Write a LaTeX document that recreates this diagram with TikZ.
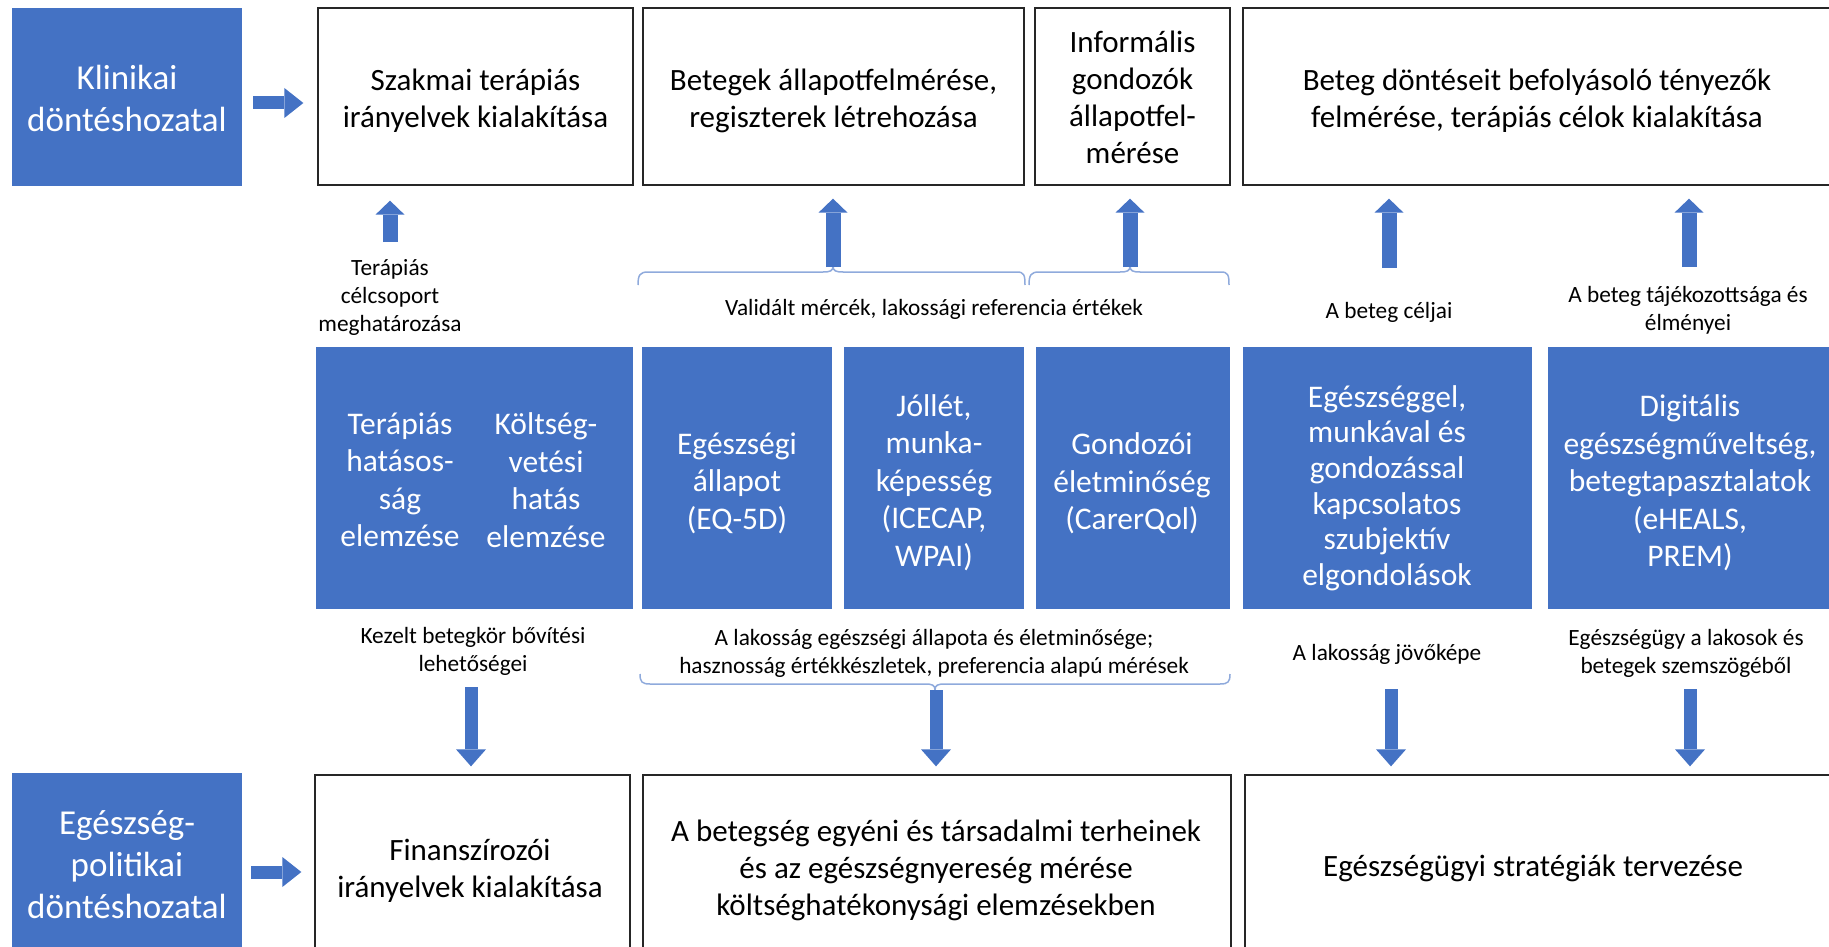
\documentclass[tikz,border=0pt]{standalone}
\usepackage{fontspec}
\setmainfont{Carlito}
\usetikzlibrary{arrows.meta}
\definecolor{obl}{HTML}{4472C4}
\definecolor{brc}{HTML}{8FAADC}
\begin{document}
\begin{tikzpicture}[x=1pt,y=-1pt,
  wbox/.style={draw=black!85, line width=1.3pt, fill=white, inner sep=0pt},
  bluebox/.style={fill=obl, draw=none, inner sep=0pt},
  wtxt/.style={align=center, inner sep=0pt, text=black, font=\fontsize{31}{37}\selectfont},
  btxt/.style={align=center, inner sep=0pt, text=white, font=\fontsize{31.5}{37.5}\selectfont},
  stxt/.style={align=center, inner sep=0pt, text=white, font=\fontsize{35}{42}\selectfont},
  lbl/.style={align=center, inner sep=0pt, text=black, font=\fontsize{23.3}{28}\selectfont},
  uparr/.style={draw=obl, line width=15pt, shorten >=13pt, -{Triangle[width=29pt,length=14pt,line width=0pt]}},
  downarr/.style={draw=obl, line width=13pt, shorten >=8pt, -{Triangle[width=30pt,length=17pt,line width=0pt]}},
  rarr/.style={draw=obl, line width=13pt, -{Triangle[width=30pt,length=19pt,line width=0pt]}},
  bracestyle/.style={draw=brc, line width=1.5pt}
]
\useasboundingbox (0,0) rectangle (1829,947);
\clip (0,0) rectangle (1829,947);

% ---------- top row ----------
\node[bluebox, minimum width=230pt, minimum height=178pt] (kl) at (127,97) {};
\node[stxt] (klt) at (127,98.5) {Klinikai\\döntéshozatal};
\node[wbox, minimum width=315pt, minimum height=177pt] (szak) at (475.5,96.5) {};
\node[wtxt] (szakt) at (475.5,101) {Szakmai terápiás\\irányelvek kialakítása};
\node[wbox, minimum width=381pt, minimum height=177pt] (beteg) at (833.5,96.5) {};
\node[wtxt] (betegt) at (833.5,101) {Betegek állapotfelmérése,\\regiszterek létrehozása};
\node[wbox, minimum width=195pt, minimum height=177pt] (inf) at (1132.5,96.5) {};
\node[wtxt] (inft) at (1132.5,97) {Informális\\gondozók\\állapotfel-\\mérése};
\node[wbox, minimum width=592pt, minimum height=177pt] (dont) at (1539,96.5) {};
\node[wtxt] (dontt) at (1537,101) {Beteg döntéseit befolyásoló tényezők\\felmérése, terápiás célok kialakítása};

% ---------- middle row ----------
\node[bluebox, minimum width=317pt, minimum height=262pt] (tk) at (474.5,478) {};
\node[btxt] (tk1) at (400,480) {Terápiás\\hatásos-\\ság\\elemzése};
\node[btxt] (tk2) at (546,480) {Költség-\\vetési\\hatás\\elemzése};
\node[bluebox, minimum width=190pt, minimum height=262pt] (eg) at (737,478) {};
\node[btxt] (egt) at (737,483) {Egészségi\\állapot\\(EQ-5D)};
\node[bluebox, minimum width=180pt, minimum height=262pt] (jo) at (934,478) {};
\node[btxt] (jot) at (934,482.5) {Jóllét,\\munka-\\képesség\\(ICECAP,\\WPAI)};
\node[bluebox, minimum width=194pt, minimum height=262pt] (go) at (1133,478) {};
\node[btxt] (got) at (1132,483.5) {Gondozói\\életminőség\\(CarerQol)};
\node[bluebox, minimum width=289pt, minimum height=262pt] (esz) at (1387.5,478) {};
\node[btxt, font=\fontsize{31.5}{35.6}\selectfont] (eszt) at (1387,488) {Egészséggel,\\munkával és\\gondozással\\kapcsolatos\\szubjektív\\elgondolások};
\node[bluebox, minimum width=287pt, minimum height=262pt] (dig) at (1691.5,478) {};
\node[btxt] (digt) at (1690,483) {Digitális\\egészségműveltség,\\betegtapasztalatok\\(eHEALS,\\PREM)};

% ---------- bottom row ----------
\node[bluebox, minimum width=230pt, minimum height=187pt] (ep) at (127,866.5) {};
\node[stxt] (ept) at (127,864.5) {Egészség-\\politikai\\döntéshozatal};
\node[wbox, minimum width=315pt, minimum height=185pt] (fin) at (472.5,867.5) {};
\node[wtxt] (fint) at (470,870.5) {Finanszírozói\\irányelvek kialakítása};
\node[wbox, minimum width=588pt, minimum height=185pt] (bet) at (937,867.5) {};
\node[wtxt] (bett) at (936,870) {A betegség egyéni és társadalmi terheinek\\és az egészségnyereség mérése\\költséghatékonysági elemzésekben};
\node[wbox, minimum width=590pt, minimum height=185pt] (str) at (1540,867.5) {};
\node[wtxt] (strt) at (1533,868.5) {Egészségügyi stratégiák tervezése};

% ---------- labels ----------
\node[lbl] (l1) at (390,297) {Terápiás\\célcsoport\\meghatározása};
\node[lbl] (l2) at (934,309) {Validált mércék, lakossági referencia értékek};
\node[lbl] (l3) at (1389,312) {A beteg céljai};
\node[lbl] (l4) at (1688,310) {A beteg tájékozottsága és\\élményei};
\node[lbl] (l5) at (473,651) {Kezelt betegkör bővítési\\lehetőségei};
\node[lbl] (l6) at (934,653) {A lakosság egészségi állapota és életminősége;\\hasznosság értékkészletek, preferencia alapú mérések};
\node[lbl] (l7) at (1387,654) {A lakosság jövőképe};
\node[lbl] (l8) at (1686,653) {Egészségügy a lakosok és\\betegek szemszögéből};

% ---------- braces ----------
\draw[bracestyle] (638,285) .. controls (638,275) and (640,272) .. (648,272) -- (823,272)
  .. controls (830,272) and (833,271) .. (833,266) .. controls (833,271) and (836,272) .. (843,272)
  -- (1017,272) .. controls (1024,272) and (1025,275) .. (1025,285);
\draw[bracestyle] (1029,285) .. controls (1029,275) and (1031,272) .. (1039,272) -- (1120,272)
  .. controls (1127,272) and (1130,271) .. (1130,266) .. controls (1130,271) and (1133,272) .. (1140,272)
  -- (1221,272) .. controls (1228,272) and (1229,275) .. (1229,285);
\draw[bracestyle] (640,674) .. controls (640,682) and (642,684) .. (650,684) -- (925,684)
  .. controls (932,684) and (935,685) .. (935,690) .. controls (935,685) and (938,684) .. (945,684)
  -- (1220,684) .. controls (1228,684) and (1230,682) .. (1230,674);

% ---------- arrow anchors ----------
\coordinate (u1) at (390,242);
\coordinate (u2) at (833,267);
\coordinate (u3) at (1130,267);
\coordinate (u4) at (1389,268);
\coordinate (u5) at (1689,267);
\coordinate (d1) at (471,687);
\coordinate (d2) at (936,690);
\coordinate (d3) at (1391,689);
\coordinate (d4) at (1690,689);

% ---------- arrows ----------
\draw[rarr, shorten <=11pt, shorten >=14pt] ([yshift=-6pt]kl.east) -- ([yshift=-6pt]kl.east -| szak.west);
\draw[rarr, shorten <=9pt, shorten >=13pt] ([yshift=-5.5pt]ep.east) -- ([yshift=-5.5pt]ep.east -| fin.west);

\draw[uparr, shorten >=15pt] (u1) -- (u1 |- szak.south);
\draw[uparr] (u2) -- (u2 |- beteg.south);
\draw[uparr] (u3) -- (u3 |- inf.south);
\draw[uparr] (u4) -- (u4 |- dont.south);
\draw[uparr] (u5) -- (u5 |- dont.south);

\draw[downarr] (d1) -- (d1 |- fin.north);
\draw[downarr] (d2) -- (d2 |- bet.north);
\draw[downarr] (d3) -- (d3 |- str.north);
\draw[downarr] (d4) -- (d4 |- str.north);
\end{tikzpicture}
\end{document}
